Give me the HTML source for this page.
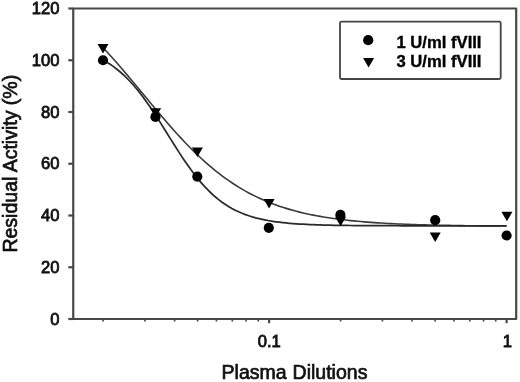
<!DOCTYPE html><html><head><meta charset="utf-8"><style>html,body{margin:0;padding:0;background:#fff;}svg{display:block;}</style></head><body>
<svg width="520" height="382" viewBox="0 0 520 382" font-family="&quot;Liberation Sans&quot;, Arial, sans-serif">
<rect width="520" height="382" fill="#fff"/>
<rect x="73.25" y="8.5" width="442.95" height="310.50" fill="none" stroke="#484848" stroke-width="2.2" stroke-linejoin="round"/>
<line x1="68.3" y1="319.00" x2="73.25" y2="319.00" stroke="#484848" stroke-width="2.2"/>
<text x="59.5" y="324.50" font-size="16.6" text-anchor="end" fill="#111" stroke="#111" stroke-width="0.8">0</text>
<line x1="68.3" y1="267.25" x2="73.25" y2="267.25" stroke="#484848" stroke-width="2.2"/>
<text x="59.5" y="272.75" font-size="16.6" text-anchor="end" fill="#111" stroke="#111" stroke-width="0.8">20</text>
<line x1="68.3" y1="215.50" x2="73.25" y2="215.50" stroke="#484848" stroke-width="2.2"/>
<text x="59.5" y="221.00" font-size="16.6" text-anchor="end" fill="#111" stroke="#111" stroke-width="0.8">40</text>
<line x1="68.3" y1="163.75" x2="73.25" y2="163.75" stroke="#484848" stroke-width="2.2"/>
<text x="59.5" y="169.25" font-size="16.6" text-anchor="end" fill="#111" stroke="#111" stroke-width="0.8">60</text>
<line x1="68.3" y1="112.00" x2="73.25" y2="112.00" stroke="#484848" stroke-width="2.2"/>
<text x="59.5" y="117.50" font-size="16.6" text-anchor="end" fill="#111" stroke="#111" stroke-width="0.8">80</text>
<line x1="68.3" y1="60.25" x2="73.25" y2="60.25" stroke="#484848" stroke-width="2.2"/>
<text x="59.5" y="65.75" font-size="16.6" text-anchor="end" fill="#111" stroke="#111" stroke-width="0.8">100</text>
<line x1="68.3" y1="8.50" x2="73.25" y2="8.50" stroke="#484848" stroke-width="2.2"/>
<text x="59.5" y="14.00" font-size="16.6" text-anchor="end" fill="#111" stroke="#111" stroke-width="0.8">120</text>
<line x1="269.10" y1="319.0" x2="269.10" y2="323.2" stroke="#484848" stroke-width="2.2"/>
<line x1="506.60" y1="319.0" x2="506.60" y2="323.2" stroke="#484848" stroke-width="2.2"/>
<line x1="103.09" y1="319.0" x2="103.09" y2="321.5" stroke="#484848" stroke-width="1.7"/>
<line x1="144.92" y1="319.0" x2="144.92" y2="321.5" stroke="#484848" stroke-width="1.7"/>
<line x1="174.59" y1="319.0" x2="174.59" y2="321.5" stroke="#484848" stroke-width="1.7"/>
<line x1="197.61" y1="319.0" x2="197.61" y2="321.5" stroke="#484848" stroke-width="1.7"/>
<line x1="216.41" y1="319.0" x2="216.41" y2="321.5" stroke="#484848" stroke-width="1.7"/>
<line x1="232.31" y1="319.0" x2="232.31" y2="321.5" stroke="#484848" stroke-width="1.7"/>
<line x1="246.08" y1="319.0" x2="246.08" y2="321.5" stroke="#484848" stroke-width="1.7"/>
<line x1="258.23" y1="319.0" x2="258.23" y2="321.5" stroke="#484848" stroke-width="1.7"/>
<line x1="340.59" y1="319.0" x2="340.59" y2="321.5" stroke="#484848" stroke-width="1.7"/>
<line x1="382.42" y1="319.0" x2="382.42" y2="321.5" stroke="#484848" stroke-width="1.7"/>
<line x1="412.09" y1="319.0" x2="412.09" y2="321.5" stroke="#484848" stroke-width="1.7"/>
<line x1="435.11" y1="319.0" x2="435.11" y2="321.5" stroke="#484848" stroke-width="1.7"/>
<line x1="453.91" y1="319.0" x2="453.91" y2="321.5" stroke="#484848" stroke-width="1.7"/>
<line x1="469.81" y1="319.0" x2="469.81" y2="321.5" stroke="#484848" stroke-width="1.7"/>
<line x1="483.58" y1="319.0" x2="483.58" y2="321.5" stroke="#484848" stroke-width="1.7"/>
<line x1="495.73" y1="319.0" x2="495.73" y2="321.5" stroke="#484848" stroke-width="1.7"/>
<text x="269.20" y="346.8" font-size="16.6" text-anchor="middle" fill="#111" stroke="#111" stroke-width="0.8">0.1</text>
<text x="507.40" y="346.8" font-size="16.6" text-anchor="middle" fill="#111" stroke="#111" stroke-width="0.8">1</text>
<text y="379.3" font-size="19.5" fill="#111" stroke="#111" stroke-width="0.7"><tspan x="221.6">Plasma</tspan> <tspan x="292.6">Dilutions</tspan></text>
<text transform="translate(16.6,163.7) rotate(-90)" x="0" y="0" font-size="19.5" text-anchor="middle" fill="#111" stroke="#111" stroke-width="0.7">Residual Activity (%)</text>
<path d="M103.00,47.63 L106.39,51.26 L109.78,54.96 L113.17,58.73 L116.57,62.56 L119.96,66.46 L123.35,70.40 L126.74,74.39 L130.13,78.41 L133.52,82.47 L136.92,86.55 L140.31,90.64 L143.70,94.74 L147.09,98.84 L150.48,102.93 L153.87,107.00 L157.27,111.05 L160.66,115.07 L164.05,119.05 L167.44,122.98 L170.83,126.86 L174.22,130.68 L177.62,134.43 L181.01,138.12 L184.40,141.73 L187.79,145.26 L191.18,148.71 L194.57,152.07 L197.96,155.34 L201.36,158.52 L204.75,161.60 L208.14,164.59 L211.53,167.48 L214.92,170.27 L218.31,172.97 L221.71,175.56 L225.10,178.06 L228.49,180.47 L231.88,182.77 L235.27,184.99 L238.66,187.11 L242.06,189.14 L245.45,191.08 L248.84,192.94 L252.23,194.71 L255.62,196.40 L259.01,198.01 L262.41,199.55 L265.80,201.01 L269.19,202.40 L272.58,203.72 L275.97,204.97 L279.36,206.16 L282.75,207.29 L286.15,208.37 L289.54,209.38 L292.93,210.34 L296.32,211.25 L299.71,212.12 L303.10,212.93 L306.50,213.70 L309.89,214.43 L313.28,215.12 L316.67,215.77 L320.06,216.39 L323.45,216.97 L326.85,217.52 L330.24,218.04 L333.63,218.52 L337.02,218.98 L340.41,219.42 L343.80,219.83 L347.19,220.22 L350.59,220.58 L353.98,220.92 L357.37,221.25 L360.76,221.55 L364.15,221.84 L367.54,222.11 L370.94,222.36 L374.33,222.60 L377.72,222.83 L381.11,223.04 L384.50,223.24 L387.89,223.43 L391.29,223.60 L394.68,223.77 L398.07,223.93 L401.46,224.07 L404.85,224.21 L408.24,224.34 L411.64,224.47 L415.03,224.58 L418.42,224.69 L421.81,224.79 L425.20,224.89 L428.59,224.98 L431.98,225.06 L435.38,225.14 L438.77,225.22 L442.16,225.29 L445.55,225.36 L448.94,225.42 L452.33,225.48 L455.73,225.53 L459.12,225.59 L462.51,225.63 L465.90,225.68 L469.29,225.72 L472.68,225.76 L476.08,225.80 L479.47,225.84 L482.86,225.87 L486.25,225.90 L489.64,225.93 L493.03,225.96 L496.43,225.99 L499.82,226.01 L503.21,226.04 L506.60,226.06" fill="none" stroke="#3a3a3a" stroke-width="1.6"/>
<path d="M103.00,59.99 L106.39,61.93 L109.78,64.06 L113.17,66.40 L116.57,68.95 L119.96,71.73 L123.35,74.74 L126.74,78.00 L130.13,81.50 L133.52,85.25 L136.92,89.26 L140.31,93.50 L143.70,97.97 L147.09,102.66 L150.48,107.55 L153.87,112.61 L157.27,117.81 L160.66,123.13 L164.05,128.53 L167.44,133.96 L170.83,139.40 L174.22,144.81 L177.62,150.14 L181.01,155.36 L184.40,160.44 L187.79,165.35 L191.18,170.07 L194.57,174.57 L197.96,178.85 L201.36,182.88 L204.75,186.67 L208.14,190.21 L211.53,193.49 L214.92,196.54 L218.31,199.35 L221.71,201.93 L225.10,204.29 L228.49,206.45 L231.88,208.42 L235.27,210.20 L238.66,211.82 L242.06,213.28 L245.45,214.60 L248.84,215.79 L252.23,216.86 L255.62,217.82 L259.01,218.68 L262.41,219.45 L265.80,220.14 L269.19,220.76 L272.58,221.31 L275.97,221.80 L279.36,222.24 L282.75,222.64 L286.15,222.98 L289.54,223.30 L292.93,223.57 L296.32,223.82 L299.71,224.04 L303.10,224.24 L306.50,224.41 L309.89,224.57 L313.28,224.70 L316.67,224.83 L320.06,224.93 L323.45,225.03 L326.85,225.12 L330.24,225.19 L333.63,225.26 L337.02,225.32 L340.41,225.38 L343.80,225.42 L347.19,225.47 L350.59,225.50 L353.98,225.54 L357.37,225.57 L360.76,225.59 L364.15,225.62 L367.54,225.64 L370.94,225.65 L374.33,225.67 L377.72,225.69 L381.11,225.70 L384.50,225.71 L387.89,225.72 L391.29,225.73 L394.68,225.74 L398.07,225.74 L401.46,225.75 L404.85,225.76 L408.24,225.76 L411.64,225.77 L415.03,225.77 L418.42,225.77 L421.81,225.78 L425.20,225.78 L428.59,225.78 L431.98,225.78 L435.38,225.78 L438.77,225.79 L442.16,225.79 L445.55,225.79 L448.94,225.79 L452.33,225.79 L455.73,225.79 L459.12,225.79 L462.51,225.79 L465.90,225.79 L469.29,225.80 L472.68,225.80 L476.08,225.80 L479.47,225.80 L482.86,225.80 L486.25,225.80 L489.64,225.80 L493.03,225.80 L496.43,225.80 L499.82,225.80 L503.21,225.80 L506.60,225.80" fill="none" stroke="#2a2a2a" stroke-width="1.75"/>
<circle cx="103" cy="60.25" r="5.1" fill="#000"/>
<circle cx="155.5" cy="116.9" r="5.1" fill="#000"/>
<circle cx="197.3" cy="176.6" r="5.1" fill="#000"/>
<circle cx="268.8" cy="227.8" r="5.1" fill="#000"/>
<circle cx="340.4" cy="214.8" r="5.1" fill="#000"/>
<circle cx="435.2" cy="220.2" r="5.1" fill="#000"/>
<circle cx="506.6" cy="235.5" r="5.1" fill="#000"/>
<polygon points="97.50,44.00 108.50,44.00 103.00,53.50" fill="#000"/>
<polygon points="150.10,108.20 161.10,108.20 155.60,117.70" fill="#000"/>
<polygon points="191.90,147.50 202.90,147.50 197.40,157.00" fill="#000"/>
<polygon points="263.60,199.00 274.60,199.00 269.10,208.50" fill="#000"/>
<polygon points="335.10,216.80 346.10,216.80 340.60,226.30" fill="#000"/>
<polygon points="429.70,232.40 440.70,232.40 435.20,241.90" fill="#000"/>
<polygon points="501.40,211.80 512.40,211.80 506.90,221.30" fill="#000"/>
<rect x="340" y="21.7" width="160.7" height="57.3" rx="1.5" fill="#fff" stroke="#444" stroke-width="1.8"/>
<circle cx="368.2" cy="40.2" r="5.1" fill="#000"/>
<polygon points="363.10,58 374.10,58 368.6,67.5" fill="#000"/>
<text x="396.5" y="47.6" font-size="15.8" font-weight="bold" fill="#000" stroke="#000" stroke-width="0.35" textLength="85" lengthAdjust="spacingAndGlyphs">1 U/ml fVIII</text>
<text x="396.5" y="66.5" font-size="15.8" font-weight="bold" fill="#000" stroke="#000" stroke-width="0.35" textLength="85" lengthAdjust="spacingAndGlyphs">3 U/ml fVIII</text>
</svg></body></html>
